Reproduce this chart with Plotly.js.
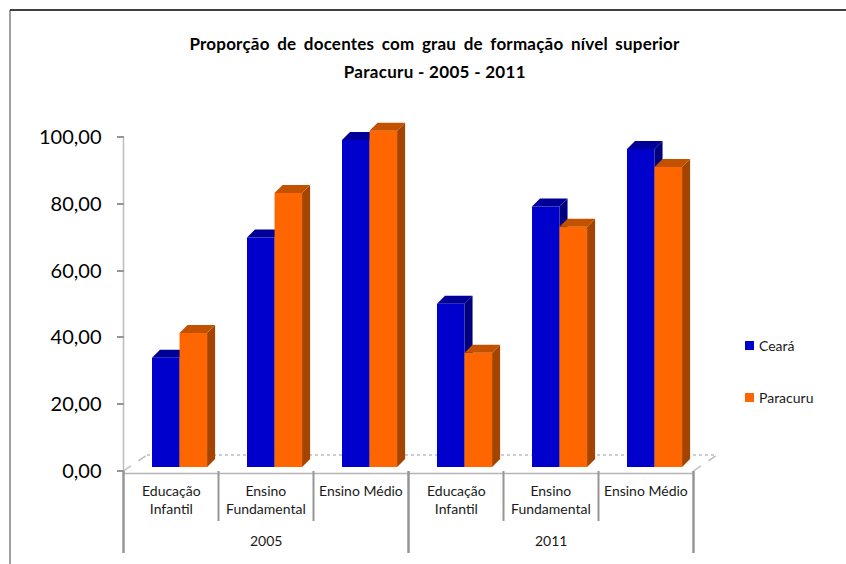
<!DOCTYPE html>
<html>
<head>
<meta charset="utf-8">
<script src="https://cdn.plot.ly/plotly-3.0.1.min.js"></script>
<style>
html,body{margin:0;padding:0;background:#fff;overflow:hidden}
.gtitle{letter-spacing:.2px;word-spacing:3.2px}
.annotation.title-line text{letter-spacing:.3px}
</style>
</head>
<body>
<div id="chart" style="width:846px;height:564px"></div>
<script>
const categories = ['Educação<br>Infantil', 'Ensino<br>Fundamental', 'Ensino Médio', 'Educação<br>Infantil', 'Ensino<br>Fundamental', 'Ensino Médio'];
const years = ['2005', '2011'];
const ceara = [32.7, 68.7, 97.9, 48.9, 78.0, 95.2];
const paracuru = [40.1, 82.0, 100.7, 34.2, 71.9, 89.8];
const seriesNames = ['Ceará', 'Paracuru'];
const yTicks = [0, 20, 40, 60, 80, 100];

const W = 846, H = 564;
const PX0 = 123.5, PXU = 95, PY0 = 471, PYU = 3.34;
const X = p => (p - PX0) / PXU;
const Y = p => (PY0 - p) / PYU;
const FONT = 'Lato, Carlito, Calibri, sans-serif';
const xRange = [X(0), X(W)], yRange = [Y(H), Y(0)];

const barBase = 4 / PYU, depthX = 8 / PXU, depthY = 8 / PYU, barW = 0.29;
const slots = categories.map((c, i) => i + 0.5);

function barTrace(name, vals, color, off, xa, ya) {
  return {type: 'bar', name, x: slots, y: vals, base: vals.map(() => barBase), width: barW, offset: off,
    marker: {color, line: {width: 0}}, xaxis: xa, yaxis: ya, hoverinfo: 'x+y', showlegend: false};
}
function polyTrace(kind, vals, color, off, xa, ya) {
  const xs = [], ys = [];
  vals.forEach((v, i) => {
    const l = slots[i] + off, r = l + barW, t = v + barBase;
    if (kind === 'side') {
      xs.push(r, r + depthX, r + depthX, r, r, null);
      ys.push(barBase, barBase + depthY, t + depthY, t, barBase, null);
    } else {
      xs.push(l, l + depthX, r + depthX, r, l, null);
      ys.push(t, t + depthY, t + depthY, t, t, null);
    }
  });
  return {type: 'scatter', mode: 'lines', x: xs, y: ys, fill: 'toself', fillcolor: color,
    line: {width: 0, color}, xaxis: xa, yaxis: ya, hoverinfo: 'skip', showlegend: false};
}

const traces = [
  barTrace(seriesNames[0], ceara, '#0000CC', -0.2, 'x', 'y'),
  polyTrace('side', ceara, '#00007F', -0.2, 'x', 'y'),
  polyTrace('top', ceara, '#000099', -0.2, 'x', 'y'),
  barTrace(seriesNames[1], paracuru, '#FF6600', 0.09, 'x2', 'y2'),
  polyTrace('side', paracuru, '#A34400', 0.09, 'x2', 'y2'),
  polyTrace('top', paracuru, '#C25100', 0.09, 'x2', 'y2')
];

const seg = (x0, y0, x1, y1, color, width, dash) => ({type: 'line', xref: 'x', yref: 'y', x0, y0, x1, y1, layer: 'below',
  line: {color, width, dash: dash || 'solid'}});
const shapes = [
  seg(X(10), Y(10), X(10), Y(564), '#7F7F7F', 1.5),
  seg(X(10), Y(10), X(846), Y(10), '#000000', 1.5),
  seg(0, 0, 0, 100, '#BDBDBD', 1.5),
  seg(0, Y(473.5), 6, Y(473.5), '#B5B5B5', 1.5),
  seg(0, 0, X(147), Y(455), '#BDBDBD', 1.5, 'dash'),
  seg(6, 0, X(717), Y(455), '#BDBDBD', 1.5, 'dash'),
  seg(X(147), Y(455), X(717), Y(455), '#BDBDBD', 1.5, 'dot')
];
categories.forEach((c, i) => {
  if (i > 0 && i % 3 !== 0) shapes.push(seg(i, 0, i, Y(521), '#969696', 2));
});
[0, 3, 6].forEach(i => shapes.push(seg(i, 0, i, Y(553), '#969696', 2.5)));
[[341, '#0000CC'], [393, '#FF6600']].forEach(([top, color]) => shapes.push({type: 'rect', xref: 'x', yref: 'y',
  x0: X(745), x1: X(754), y0: Y(top), y1: Y(top + 9), fillcolor: color, line: {width: 0}, layer: 'below'}));

const text = (x, y, t, extra) => Object.assign({xref: 'x', yref: 'y', x, y, text: t, showarrow: false,
  font: {family: FONT, size: 14, color: '#1a1a1a'}, yanchor: 'top', xanchor: 'center', align: 'center'}, extra || {});
const annotations = [];
categories.forEach((c, i) => annotations.push(text(slots[i], Y(480), c)));
years.forEach((yr, i) => annotations.push(text(1.5 + 3 * i, Y(540.5), yr, {yanchor: 'middle'})));
seriesNames.forEach((n, i) => annotations.push(text(X(757), Y([345.5, 397.5][i]), n, {xanchor: 'left', yanchor: 'middle'})));
annotations.push(text(X(435), Y(71.5), '<b>Paracuru - 2005 - 2011</b>', {yanchor: 'middle', font: {family: FONT, size: 17, color: '#000'}}));

const hidden = {visible: false, fixedrange: true};
const layout = {
  width: W, height: H, margin: {l: 0, r: 0, t: 0, b: 0}, paper_bgcolor: '#fff', plot_bgcolor: 'rgba(0,0,0,0)',
  separators: ',.', showlegend: false, barmode: 'overlay',
  title: {text: '<b>Proporção de docentes com grau de formação nível superior</b>', font: {family: FONT, size: 17, color: '#000'},
    x: 434.5 / W, xanchor: 'center', xref: 'paper', y: 1 - 44.5 / H, yanchor: 'middle', yref: 'container'},
  xaxis: Object.assign({range: xRange}, hidden),
  yaxis: {range: yRange, fixedrange: true, anchor: 'free', position: PX0 / W, showgrid: false, zeroline: false, showline: false,
    tickmode: 'array', tickvals: yTicks, tickformat: '.2f', ticks: 'outside', ticklen: 7, tickwidth: 2, tickcolor: '#969696',
    ticklabelstandoff: 11, tickfont: {family: FONT, size: 20, color: '#000'}},
  xaxis2: Object.assign({range: xRange, overlaying: 'x'}, hidden),
  yaxis2: Object.assign({range: yRange, overlaying: 'y'}, hidden),
  shapes, annotations
};
Plotly.newPlot('chart', traces, layout, {displayModeBar: false, staticPlot: true}).then(gd => {
  const notes = gd.querySelectorAll('.annotation');
  notes[notes.length - 1].classList.add('title-line');
});
</script>
</body>
</html>
